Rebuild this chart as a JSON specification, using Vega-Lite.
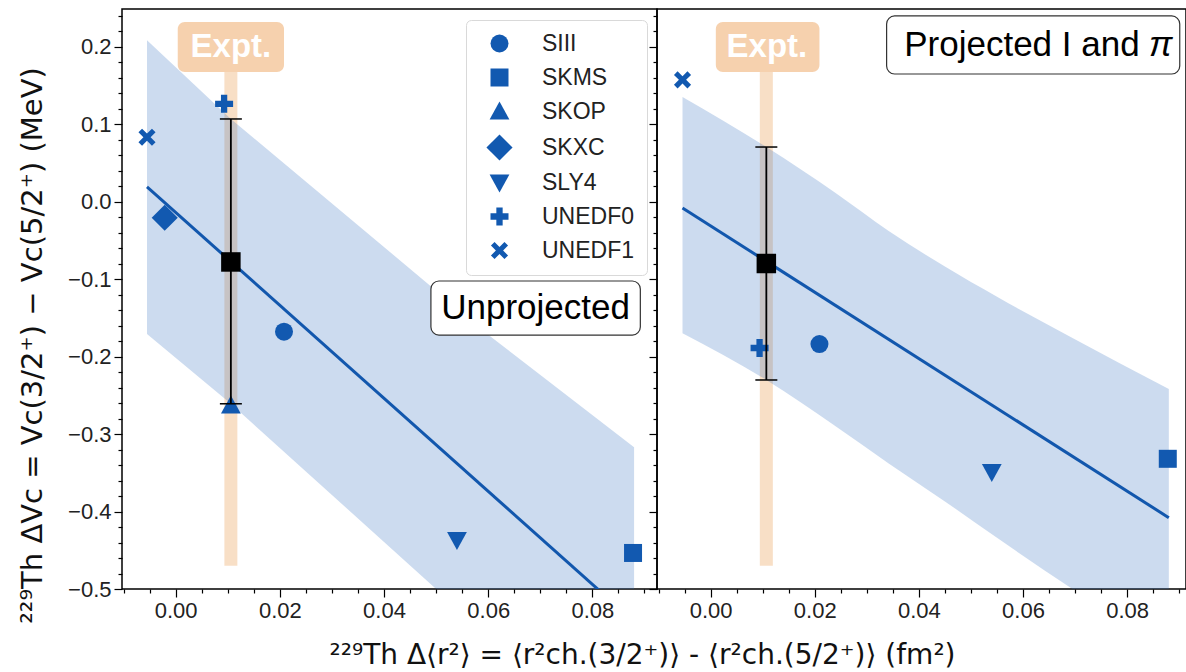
{
  "$schema": "https://vega.github.io/schema/vega-lite/v6.json",
  "background": "white",
  "padding": {"left": 17, "top": 8, "right": 0, "bottom": 0},
  "spacing": 0,
  "bounds": "flush",
  "config": {
    "view": {"stroke": "black", "strokeWidth": 1.5},
    "axis": {"domain": false, "grid": false, "tickColor": "black", "tickWidth": 1.2, "labelFont": "Liberation Sans", "labelFontSize": 22, "labelColor": "#222222", "labelPadding": 3, "titleFont": "DejaVu Sans", "titleFontSize": 28, "titleFontWeight": "normal", "titleColor": "#111111"},
    "legend": {"labelFont": "Liberation Sans", "labelFontSize": 23, "labelColor": "#222222", "symbolSize": 324, "symbolFillColor": "#1259b0", "symbolStrokeWidth": 0, "rowPadding": 10, "padding": 12, "fillColor": "white", "strokeColor": "#d9d9d9", "cornerRadius": 5, "labelOffset": 31, "symbolOffset": 10}
  },
  "datasets": {
    "strip1": [{"x": 0.0106, "y": 0.167, "y2": -0.47}],
    "strip2": [{"x": 0.0107, "y": 0.167, "y2": -0.47}],
    "band1": [
      {"x": -0.0055, "y": 0.208, "y2": -0.171},
      {"x": 0.0106, "y": 0.1065, "y2": -0.261},
      {"x": 0.05, "y": -0.115, "y2": -0.5},
      {"x": 0.06, "y": -0.172, "y2": -0.562},
      {"x": 0.088, "y": -0.317, "y2": -0.736}
    ],
    "band2": [
      {"x": -0.0054, "y": 0.135, "y2": -0.17},
      {"x": 0.0107, "y": 0.0703, "y2": -0.2303},
      {"x": 0.024, "y": 0.011, "y2": -0.29},
      {"x": 0.0342, "y": -0.038, "y2": -0.338},
      {"x": 0.045, "y": -0.084, "y2": -0.387},
      {"x": 0.055, "y": -0.123, "y2": -0.434},
      {"x": 0.0695, "y": -0.176, "y2": -0.5},
      {"x": 0.088, "y": -0.242, "y2": -0.581}
    ],
    "line1": [{"x": -0.0055, "y": 0.019}, {"x": 0.088, "y": -0.542}],
    "line2": [{"x": -0.0054, "y": -0.0084}, {"x": 0.088, "y": -0.408}],
    "pts1": [
      {"model": "UNEDF1", "x": -0.0055, "y": 0.083},
      {"model": "UNEDF0", "x": 0.0093, "y": 0.126},
      {"model": "SKXC", "x": -0.0021, "y": -0.021},
      {"model": "SKOP", "x": 0.0106, "y": -0.263},
      {"model": "SIII", "x": 0.0208, "y": -0.168},
      {"model": "SLY4", "x": 0.054, "y": -0.437},
      {"model": "SKMS", "x": 0.0878, "y": -0.4535}
    ],
    "pts2": [
      {"model": "UNEDF1", "x": -0.0054, "y": 0.157},
      {"model": "UNEDF0", "x": 0.0094, "y": -0.189},
      {"model": "SIII", "x": 0.0209, "y": -0.184},
      {"model": "SLY4", "x": 0.054, "y": -0.349},
      {"model": "SKMS", "x": 0.0878, "y": -0.332}
    ],
    "err1": [{"x": 0.0106, "y": -0.261, "y2": 0.1065}],
    "err2": [{"x": 0.0107, "y": -0.2303, "y2": 0.0703}],
    "caps1": [{"x": 0.0106, "y": -0.261}, {"x": 0.0106, "y": 0.1065}],
    "caps2": [{"x": 0.0107, "y": -0.2303}, {"x": 0.0107, "y": 0.0703}],
    "exp1": [{"x": 0.0106, "y": -0.078}],
    "exp2": [{"x": 0.0107, "y": -0.08}],
    "ebox1": [{"x": 0.0004, "x2": 0.0208, "y": 0.2316, "y2": 0.167}],
    "ebox2": [{"x": 0.001, "x2": 0.0209, "y": 0.2316, "y2": 0.167}],
    "etext1": [{"x": 0.0106, "y": 0.2, "label": "Expt."}],
    "etext2": [{"x": 0.0108, "y": 0.2, "label": "Expt."}],
    "abox1": [{"x": 0.049, "x2": 0.0892, "y": -0.1026, "y2": -0.1723}],
    "atext1": [{"x": 0.0691, "y": -0.1374, "label": "Unprojected"}],
    "abox2": [{"x": 0.0338, "x2": 0.0901, "y": 0.2394, "y2": 0.1645}],
    "atext2a": [{"x": 0.0824, "y": 0.2015, "label": "Projected I and"}],
    "atext2b": [{"x": 0.0842, "y": 0.2015, "label": "π"}]
  },
  "hconcat": [
    {
      "width": 535,
      "height": 580,
      "encoding": {
        "x": {"field": "x", "type": "quantitative", "scale": {"domain": [-0.0103, 0.0924], "nice": false, "zero": false},
          "axis": {"title": "²²⁹Th  Δ⟨r²⟩ = ⟨r²ch.(3/2⁺)⟩ - ⟨r²ch.(5/2⁺)⟩ (fm²)", "titleX": 520, "titleY": 66, "titleAnchor": null, "titleAlign": "center", "titleBaseline": "middle", "titleFontSize": 28,
            "values": [-0.01, -0.005, 0, 0.005, 0.01, 0.015, 0.02, 0.025, 0.03, 0.035, 0.04, 0.045, 0.05, 0.055, 0.06, 0.065, 0.07, 0.075, 0.08, 0.085, 0.09],
            "labelExpr": "abs(datum.value*50 - round(datum.value*50)) < 1e-6 ? format(datum.value, '.2f') : ''",
            "tickSize": {"condition": {"test": "abs(datum.value*50 - round(datum.value*50)) > 1e-6", "value": 4}, "value": 8}}},
        "y": {"field": "y", "type": "quantitative", "scale": {"domain": [-0.5, 0.2484], "nice": false, "zero": false},
          "axis": {"title": "²²⁹Th ΔVᴄ = Vᴄ(3/2⁺) − Vᴄ(5/2⁺) (MeV)", "titleX": -90, "titleY": 336, "titleAngle": -90, "titleAlign": "center", "titleBaseline": "middle", "titleFontSize": 29,
            "values": [-0.5, -0.48, -0.46, -0.44, -0.42, -0.4, -0.38, -0.36, -0.34, -0.32, -0.3, -0.28, -0.26, -0.24, -0.22, -0.2, -0.18, -0.16, -0.14, -0.12, -0.1, -0.08, -0.06, -0.04, -0.02, 0, 0.02, 0.04, 0.06, 0.08, 0.1, 0.12, 0.14, 0.16, 0.18, 0.2, 0.22, 0.24],
            "labelExpr": "abs(datum.value*10 - round(datum.value*10)) < 1e-6 ? format(datum.value, '.1f') : ''",
            "tickSize": {"condition": {"test": "abs(datum.value*10 - round(datum.value*10)) > 1e-6", "value": 4}, "value": 8}}}
      },
      "layer": [
        {"data": {"name": "strip1"}, "mark": {"type": "rule", "color": "#f4c9a0", "opacity": 0.6, "strokeWidth": 13}, "encoding": {"y2": {"field": "y2"}}},
        {"data": {"name": "band1"}, "mark": {"type": "area", "color": "#3470c0", "opacity": 0.25, "clip": true}, "encoding": {"y2": {"field": "y2"}}},
        {"data": {"name": "line1"}, "mark": {"type": "line", "color": "#1257ad", "strokeWidth": 3, "clip": true}, "encoding": {}},
        {"data": {"name": "pts1"}, "mark": {"type": "point", "filled": true, "opacity": 1, "size": 324, "color": "#1259b0"},
          "encoding": {"shape": {"field": "model", "type": "nominal",
            "scale": {"domain": ["SIII", "SKMS", "SKOP", "SKXC", "SLY4", "UNEDF0", "UNEDF1"],
              "range": ["circle", "square", "M0,-1.1L1.1,0.9L-1.1,0.9Z", "M0,-1.45L1.45,0L0,1.45L-1.45,0Z", "M0,1.1L1.1,-0.9L-1.1,-0.9Z", "M-0.35,-1H0.35V-0.35H1V0.35H0.35V1H-0.35V0.35H-1V-0.35H-0.35Z", "M-0.95,-0.55L-0.55,-0.95L0,-0.4L0.55,-0.95L0.95,-0.55L0.4,0L0.95,0.55L0.55,0.95L0,0.4L-0.55,0.95L-0.95,0.55L-0.4,0Z"]},
            "legend": {"title": null, "orient": "none", "legendX": 344, "legendY": 11}}}},
        {"data": {"name": "err1"}, "mark": {"type": "rule", "color": "black", "strokeWidth": 1.8}, "encoding": {"y2": {"field": "y2"}}},
        {"data": {"name": "caps1"}, "mark": {"type": "tick", "orient": "horizontal", "color": "black", "size": 22, "thickness": 1.5, "opacity": 1}, "encoding": {}},
        {"data": {"name": "exp1"}, "mark": {"type": "point", "shape": "square", "filled": true, "opacity": 1, "size": 380, "color": "black"}, "encoding": {}},
        {"data": {"name": "ebox1"}, "mark": {"type": "rect", "color": "#f4c9a0", "opacity": 0.85, "cornerRadius": 7}, "encoding": {"x2": {"field": "x2"}, "y2": {"field": "y2"}}},
        {"data": {"name": "etext1"}, "mark": {"type": "text", "color": "white", "font": "Liberation Sans", "fontWeight": "bold", "fontSize": 33, "align": "center", "baseline": "middle"}, "encoding": {"text": {"field": "label"}}},
        {"data": {"name": "abox1"}, "mark": {"type": "rect", "fill": "white", "stroke": "#333333", "strokeWidth": 1.2, "cornerRadius": 8}, "encoding": {"x2": {"field": "x2"}, "y2": {"field": "y2"}}},
        {"data": {"name": "atext1"}, "mark": {"type": "text", "color": "black", "font": "Liberation Sans", "fontSize": 35, "align": "center", "baseline": "middle"}, "encoding": {"text": {"field": "label"}}}
      ]
    },
    {
      "width": 529,
      "height": 580,
      "encoding": {
        "x": {"field": "x", "type": "quantitative", "scale": {"domain": [-0.0103, 0.0913], "nice": false, "zero": false},
          "axis": {"title": null,
            "values": [-0.01, -0.005, 0, 0.005, 0.01, 0.015, 0.02, 0.025, 0.03, 0.035, 0.04, 0.045, 0.05, 0.055, 0.06, 0.065, 0.07, 0.075, 0.08, 0.085, 0.09],
            "labelExpr": "abs(datum.value*50 - round(datum.value*50)) < 1e-6 ? format(datum.value, '.2f') : ''",
            "tickSize": {"condition": {"test": "abs(datum.value*50 - round(datum.value*50)) > 1e-6", "value": 4}, "value": 8}}},
        "y": {"field": "y", "type": "quantitative", "scale": {"domain": [-0.5, 0.2484], "nice": false, "zero": false},
          "axis": {"title": null, "labels": false,
            "values": [-0.5, -0.48, -0.46, -0.44, -0.42, -0.4, -0.38, -0.36, -0.34, -0.32, -0.3, -0.28, -0.26, -0.24, -0.22, -0.2, -0.18, -0.16, -0.14, -0.12, -0.1, -0.08, -0.06, -0.04, -0.02, 0, 0.02, 0.04, 0.06, 0.08, 0.1, 0.12, 0.14, 0.16, 0.18, 0.2, 0.22, 0.24],
            "tickSize": {"condition": {"test": "abs(datum.value*10 - round(datum.value*10)) > 1e-6", "value": 4}, "value": 8}}}
      },
      "layer": [
        {"data": {"name": "strip2"}, "mark": {"type": "rule", "color": "#f4c9a0", "opacity": 0.6, "strokeWidth": 13}, "encoding": {"y2": {"field": "y2"}}},
        {"data": {"name": "band2"}, "mark": {"type": "area", "color": "#3470c0", "opacity": 0.25, "clip": true, "interpolate": "monotone"}, "encoding": {"y2": {"field": "y2"}}},
        {"data": {"name": "line2"}, "mark": {"type": "line", "color": "#1257ad", "strokeWidth": 3, "clip": true}, "encoding": {}},
        {"data": {"name": "pts2"}, "mark": {"type": "point", "filled": true, "opacity": 1, "size": 324, "color": "#1259b0"},
          "encoding": {"shape": {"field": "model", "type": "nominal"}}},
        {"data": {"name": "err2"}, "mark": {"type": "rule", "color": "black", "strokeWidth": 1.8}, "encoding": {"y2": {"field": "y2"}}},
        {"data": {"name": "caps2"}, "mark": {"type": "tick", "orient": "horizontal", "color": "black", "size": 22, "thickness": 1.5, "opacity": 1}, "encoding": {}},
        {"data": {"name": "exp2"}, "mark": {"type": "point", "shape": "square", "filled": true, "opacity": 1, "size": 380, "color": "black"}, "encoding": {}},
        {"data": {"name": "ebox2"}, "mark": {"type": "rect", "color": "#f4c9a0", "opacity": 0.85, "cornerRadius": 7}, "encoding": {"x2": {"field": "x2"}, "y2": {"field": "y2"}}},
        {"data": {"name": "etext2"}, "mark": {"type": "text", "color": "white", "font": "Liberation Sans", "fontWeight": "bold", "fontSize": 33, "align": "center", "baseline": "middle"}, "encoding": {"text": {"field": "label"}}},
        {"data": {"name": "abox2"}, "mark": {"type": "rect", "fill": "white", "stroke": "#333333", "strokeWidth": 1.2, "cornerRadius": 8}, "encoding": {"x2": {"field": "x2"}, "y2": {"field": "y2"}}},
        {"data": {"name": "atext2a"}, "mark": {"type": "text", "color": "black", "font": "Liberation Sans", "fontSize": 35, "align": "right", "baseline": "middle"}, "encoding": {"text": {"field": "label"}}},
        {"data": {"name": "atext2b"}, "mark": {"type": "text", "color": "black", "font": "Liberation Sans", "fontSize": 35, "fontStyle": "italic", "align": "left", "baseline": "middle"}, "encoding": {"text": {"field": "label"}}}
      ]
    }
  ]
}
